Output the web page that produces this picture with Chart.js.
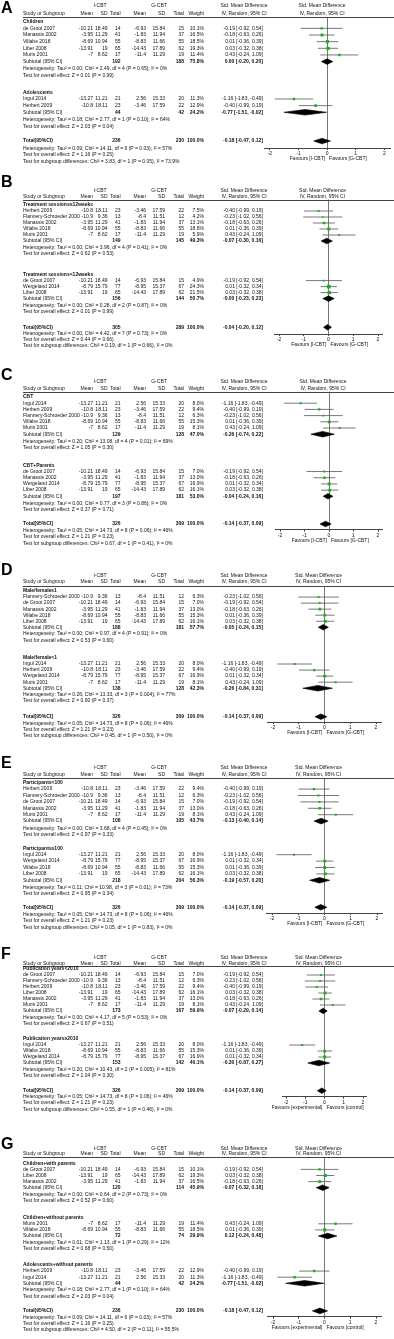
<!DOCTYPE html>
<html>
<head>
<meta charset="utf-8">
<title>Forest plots I-CBT vs G-CBT</title>
<script src="https://cdn.jsdelivr.net/npm/chart.js@4.4.1/dist/chart.umd.min.js"></script>
<style>
  body { margin: 0; background: #fff; }
  #page { position: relative; width: 394px; height: 1339px; overflow: hidden; }
  #page canvas { position: absolute; left: 0; }
</style>
</head>
<body>
<div id="page"></div>
<script>
// study level data (same in every panel)
const studies = ['de Groot 2007', 'Manassis 2002', 'Villabe 2018', 'Liber 2008', 'Muris 2001', 'Ingul 2014', 'Herbert 2009', 'Flannery-Schroeder 2000', 'Wergeland 2014'];
const iMean = [-10.21, -3.95, -8.69, -13.91, -7, -13.27, -10.8, -10.9, -8.79];
const iSD = [18.49, 11.29, 10.94, 19, 8.62, 11.21, 18.11, 9.36, 15.79];
const iTotal = [14, 41, 55, 65, 17, 21, 23, 13, 77];
const gMean = [-6.93, -1.83, -8.83, -14.43, -11.4, 2.56, -3.46, -8.4, -8.95];
const gSD = [15.84, 11.94, 11.66, 17.89, 11.29, 15.33, 17.59, 11.51, 15.37];
const gTotal = [15, 37, 55, 62, 19, 20, 22, 12, 67];
const smd = [-0.19, -0.18, 0.01, 0.03, 0.43, -1.16, -0.40, -0.23, 0.01];
const ciLow = [-0.92, -0.63, -0.36, -0.32, -0.24, -1.83, -0.99, -1.02, -0.32];
const ciHigh = [0.54, 0.26, 0.39, 0.38, 1.09, -0.49, 0.19, 0.56, 0.34];
const axisTicks = [-2, -1, 0, 1, 2];

// A: age
const A_groups = ['Children', 'Adolescents'];
const A_members = [[0, 1, 2, 3, 4], [5, 6]];
const A_weights = [[10.1, 16.5, 18.5, 19.3, 11.4], [11.3, 12.9]];
const A_sub = [[192, 188, 75.8, 0.00, -0.20, 0.20], [44, 42, 24.2, -0.77, -1.51, -0.02]];
const A_het = ['Tau² = 0.00; Chi² = 2.49, df = 4 (P = 0.65); I² = 0%', 'Tau² = 0.18; Chi² = 2.77, df = 1 (P = 0.10); I² = 64%'];
const A_z = ['Z = 0.01 (P = 0.99)', 'Z = 2.03 (P = 0.04)'];
const A_total = [236, 230, -0.18, -0.47, 0.12];
const A_totalText = ['Tau² = 0.09; Chi² = 14.11, df = 6 (P = 0.03); I² = 57%', 'Z = 1.16 (P = 0.25)', 'Chi² = 3.83, df = 1 (P = 0.05), I² = 73.9%'];

// B: treatment sessions
const B_groups = ['Treatment sessions≥12weeks', 'Treatment sessions<12weeks'];
const B_members = [[6, 7, 1, 2, 4], [0, 8, 3]];
const B_weights = [[7.5, 4.2, 13.1, 18.6, 5.9], [4.9, 24.3, 21.5]];
const B_sub = [[149, 145, 49.3, -0.07, -0.30, 0.16], [156, 144, 50.7, -0.00, -0.23, 0.23]];
const B_het = ['Tau² = 0.00; Chi² = 3.96, df = 4 (P = 0.41); I² = 0%', 'Tau² = 0.00; Chi² = 0.28, df = 2 (P = 0.87); I² = 0%'];
const B_z = ['Z = 0.62 (P = 0.53)', 'Z = 0.01 (P = 0.99)'];
const B_total = [305, 289, -0.04, -0.20, 0.12];
const B_totalText = ['Tau² = 0.00; Chi² = 4.42, df = 7 (P = 0.73); I² = 0%', 'Z = 0.44 (P = 0.66)', 'Chi² = 0.19, df = 1 (P = 0.66), I² = 0%'];

// C: parents involved
const C_groups = ['CBT', 'CBT+Parents'];
const C_members = [[5, 6, 7, 2, 4], [0, 1, 8, 3]];
const C_weights = [[8.0, 9.4, 6.3, 15.3, 8.1], [7.0, 13.0, 16.9, 16.1]];
const C_sub = [[129, 128, 47.0, -0.26, -0.74, 0.22], [197, 181, 53.0, -0.04, -0.24, 0.16]];
const C_het = ['Tau² = 0.20; Chi² = 13.08, df = 4 (P = 0.01); I² = 69%', 'Tau² = 0.00; Chi² = 0.77, df = 3 (P = 0.86); I² = 0%'];
const C_z = ['Z = 1.05 (P = 0.30)', 'Z = 0.37 (P = 0.71)'];
const C_total = [326, 309, -0.14, -0.37, 0.09];
const C_totalText = ['Tau² = 0.05; Chi² = 14.73, df = 8 (P = 0.06); I² = 46%', 'Z = 1.21 (P = 0.23)', 'Chi² = 0.67, df = 1 (P = 0.41), I² = 0%'];

// D: sex ratio
const D_groups = ['Male/female≥1', 'Male/female<1'];
const D_members = [[7, 0, 1, 2, 3], [5, 6, 8, 4]];
const D_weights = [[6.3, 7.0, 13.0, 15.3, 16.1], [8.0, 9.4, 16.9, 8.1]];
const D_sub = [[188, 181, 57.7, -0.05, -0.24, 0.15], [138, 128, 42.3, -0.26, -0.84, 0.31]];
const D_het = ['Tau² = 0.00; Chi² = 0.97, df = 4 (P = 0.91); I² = 0%', 'Tau² = 0.26; Chi² = 13.33, df = 3 (P = 0.004); I² = 77%'];
const D_z = ['Z = 0.53 (P = 0.60)', 'Z = 0.90 (P = 0.37)'];
const D_total = [326, 309, -0.14, -0.37, 0.09];
const D_totalText = ['Tau² = 0.05; Chi² = 14.73, df = 8 (P = 0.06); I² = 46%', 'Z = 1.21 (P = 0.23)', 'Chi² = 0.45, df = 1 (P = 0.50), I² = 0%'];

// E: sample size
const E_groups = ['Participants<100', 'Participants≥100'];
const E_members = [[6, 7, 0, 1, 4], [5, 8, 2, 3]];
const E_weights = [[9.4, 6.3, 7.0, 13.0, 8.1], [8.0, 16.9, 15.3, 16.1]];
const E_sub = [[108, 105, 43.7, -0.13, -0.40, 0.14], [218, 204, 56.3, -0.19, -0.57, 0.20]];
const E_het = ['Tau² = 0.00; Chi² = 3.68, df = 4 (P = 0.45); I² = 0%', 'Tau² = 0.11; Chi² = 10.98, df = 3 (P = 0.01); I² = 73%'];
const E_z = ['Z = 0.97 (P = 0.33)', 'Z = 0.95 (P = 0.34)'];
const E_total = [326, 309, -0.14, -0.37, 0.09];
const E_totalText = ['Tau² = 0.05; Chi² = 14.73, df = 8 (P = 0.06); I² = 46%', 'Z = 1.21 (P = 0.23)', 'Chi² = 0.05, df = 1 (P = 0.83), I² = 0%'];

// F: publication year
const F_groups = ['Publication years<2010', 'Publication years≥2010'];
const F_members = [[0, 7, 6, 3, 1, 4], [5, 2, 8]];
const F_weights = [[7.0, 6.3, 9.4, 16.1, 13.0, 8.1], [8.0, 15.3, 16.9]];
const F_sub = [[173, 167, 59.9, -0.07, -0.29, 0.14], [153, 142, 40.1, -0.30, -0.87, 0.27]];
const F_het = ['Tau² = 0.00; Chi² = 4.17, df = 5 (P = 0.53); I² = 0%', 'Tau² = 0.20; Chi² = 10.43, df = 2 (P = 0.005); I² = 81%'];
const F_z = ['Z = 0.67 (P = 0.51)', 'Z = 1.04 (P = 0.30)'];
const F_total = [326, 309, -0.14, -0.37, 0.09];
const F_totalText = ['Tau² = 0.05; Chi² = 14.73, df = 8 (P = 0.06); I² = 46%', 'Z = 1.21 (P = 0.23)', 'Chi² = 0.55, df = 1 (P = 0.46), I² = 0%'];

// G: age x parents
const G_groups = ['Children+with parents', 'Children+without parents', 'Adolescents+without parents'];
const G_members = [[0, 3, 1], [4, 2], [6, 5]];
const G_weights = [[10.1, 19.3, 16.5], [11.4, 18.5], [12.9, 11.3]];
const G_sub = [[120, 114, 45.9, -0.07, -0.32, 0.18], [72, 74, 29.9, 0.12, -0.24, 0.48], [44, 42, 24.2, -0.77, -1.51, -0.02]];
const G_het = ['Tau² = 0.00; Chi² = 0.64, df = 2 (P = 0.73); I² = 0%', 'Tau² = 0.01; Chi² = 1.13, df = 1 (P = 0.29); I² = 12%', 'Tau² = 0.18; Chi² = 2.77, df = 1 (P = 0.10); I² = 64%'];
const G_z = ['Z = 0.52 (P = 0.60)', 'Z = 0.68 (P = 0.50)', 'Z = 2.03 (P = 0.04)'];
const G_total = [236, 230, -0.18, -0.47, 0.12];
const G_totalText = ['Tau² = 0.09; Chi² = 14.11, df = 6 (P = 0.03); I² = 57%', 'Z = 1.16 (P = 0.25)', 'Chi² = 4.50, df = 2 (P = 0.11), I² = 55.5%'];

const favoursGroup = ['Favours [I-CBT]', 'Favours [G-CBT]'];
const favoursGeneric = ['Favours [experimental]', 'Favours [control]'];

const panels = [
  { letter: 'A', groups: A_groups, members: A_members, weights: A_weights, sub: A_sub, het: A_het, z: A_z, total: A_total, totalText: A_totalText, totalLabel: 'Total(95%CI)', favours: favoursGroup },
  { letter: 'B', groups: B_groups, members: B_members, weights: B_weights, sub: B_sub, het: B_het, z: B_z, total: B_total, totalText: B_totalText, totalLabel: 'Total(95%CI)', favours: favoursGroup },
  { letter: 'C', groups: C_groups, members: C_members, weights: C_weights, sub: C_sub, het: C_het, z: C_z, total: C_total, totalText: C_totalText, totalLabel: 'Total[95%CI]', favours: favoursGroup },
  { letter: 'D', groups: D_groups, members: D_members, weights: D_weights, sub: D_sub, het: D_het, z: D_z, total: D_total, totalText: D_totalText, totalLabel: 'Total[95%CI]', favours: favoursGroup },
  { letter: 'E', groups: E_groups, members: E_members, weights: E_weights, sub: E_sub, het: E_het, z: E_z, total: E_total, totalText: E_totalText, totalLabel: 'Total[95%CI]', favours: favoursGroup },
  { letter: 'F', groups: F_groups, members: F_members, weights: F_weights, sub: F_sub, het: F_het, z: F_z, total: F_total, totalText: F_totalText, totalLabel: 'Total[95%CI]', favours: favoursGeneric },
  { letter: 'G', groups: G_groups, members: G_members, weights: G_weights, sub: G_sub, het: G_het, z: G_z, total: G_total, totalText: G_totalText, totalLabel: 'Total(95%CI)', favours: favoursGeneric }
];

// page layout of each panel (page pixels), kept apart from the data
const layouts = [
  { top: 0,    height: 172, letter: 9,    h1: 6,      h2: 14,     rule: 17,     head: 21.7,   u: 6.65, gaps: [2.5],        gapTotal: 2.21, axis: 148,    xm2: 270, xp2: 386 },
  { top: 172,  height: 192, letter: 183,  h1: 191,    h2: 196.5,  rule: 199.5,  head: 205,    u: 6.0,  gaps: [3.48],       gapTotal: 2.66, axis: 334,    xm2: 279, xp2: 378 },
  { top: 364,  height: 196, letter: 376,  h1: 382,    h2: 388.5,  rule: 391.5,  head: 397,    u: 6.2,  gaps: [2.9],        gapTotal: 2.34, axis: 529.7,  xm2: 280, xp2: 378 },
  { top: 560,  height: 192, letter: 571,  h1: 576,    h2: 582,    rule: 586,    head: 591,    u: 6.05, gaps: [2.95],       gapTotal: 2.59, axis: 722,    xm2: 273, xp2: 376 },
  { top: 752,  height: 192, letter: 764,  h1: 767.5,  h2: 775,    rule: 778.3,  head: 782.7,  u: 6.4,  gaps: [2.13],       gapTotal: 2.1,  axis: 913,    xm2: 272, xp2: 377 },
  { top: 944,  height: 191, letter: 955,  h1: 957.3,  h2: 963.3,  rule: 966,    head: 969,    u: 6.0,  gaps: [2.55],       gapTotal: 2.49, axis: 1096.7, xm2: 286, xp2: 363 },
  { top: 1135, height: 204, letter: 1145, h1: 1148.3, h2: 1154,   rule: 1157.3, head: 1163.3, u: 6.1,  gaps: [2.8, 2.63],  gapTotal: 2.41, axis: 1316.7, xm2: 273, xp2: 376 }
];

const FONT = '"Liberation Sans", Arial, sans-serif';
const FS = 5.0;
const TEXT = '#111';
const GREEN = '#1fae1f';
// table columns: study left edge, right edges of number columns
const COL = { study: 23, iMean: 93, iSD: 107.5, iTotal: 120.5, gMean: 146, gSD: 165, gTotal: 184, weight: 204, ci: 263, iHead: 100, gHead: 159, smdHead: 244 };

function f2(v) {
  const s = Math.abs(v).toFixed(2);
  return (v < 0 || Object.is(v, -0)) ? '-' + s : s;
}
function ciText(est, lo, hi) {
  return f2(est) + ' [' + f2(lo) + ', ' + f2(hi) + ']';
}

// row positions in "row units", first subgroup heading = 0
function buildRows(p, L) {
  const rows = [];
  let r = 0, lastTest = 0;
  p.groups.forEach((name, k) => {
    if (k > 0) r = lastTest + L.gaps[k - 1];
    rows.push({ kind: 'heading', r: r, text: name });
    p.members[k].forEach((idx, j) => rows.push({ kind: 'study', r: r + 1 + j, idx: idx, w: p.weights[k][j] }));
    const sr = r + p.members[k].length + 1;
    rows.push({ kind: 'subtotal', r: sr, vals: p.sub[k] });
    rows.push({ kind: 'text', r: sr + 1.12, text: 'Heterogeneity: ' + p.het[k] });
    lastTest = sr + 2.12;
    rows.push({ kind: 'text', r: lastTest, text: 'Test for overall effect: ' + p.z[k] });
  });
  const tr = lastTest + L.gapTotal;
  rows.push({ kind: 'total', r: tr, vals: p.total });
  rows.push({ kind: 'text', r: tr + 1.07, text: 'Heterogeneity: ' + p.totalText[0] });
  rows.push({ kind: 'text', r: tr + 2.07, text: 'Test for overall effect: ' + p.totalText[1] });
  rows.push({ kind: 'text', r: tr + 3.14, text: 'Test for subgroup differences: ' + p.totalText[2] });
  return rows;
}

function tablePlugin(p, L, rows) {
  return {
    id: 'table' + p.letter,
    afterDraw(chart) {
      const ctx = chart.ctx;
      const ys = chart.scales.y, xs = chart.scales.x;
      const oy = L.top;
      const put = (text, x, y, align, bold) => {
        ctx.font = (bold ? 'bold ' : '') + FS + 'px ' + FONT;
        ctx.textAlign = align;
        ctx.fillText(String(text), x, y);
      };
      ctx.save();
      ctx.fillStyle = TEXT;
      ctx.textBaseline = 'middle';

      // panel letter
      ctx.font = 'bold 16px ' + FONT;
      ctx.textAlign = 'left';
      ctx.fillStyle = '#000';
      ctx.fillText(p.letter, 1, L.letter - oy);
      ctx.fillStyle = TEXT;

      // header lines
      const forestMid = (L.xm2 + L.xp2) / 2 - 6;
      put('I-CBT', COL.iHead, L.h1 - oy, 'center');
      put('G-CBT', COL.gHead, L.h1 - oy, 'center');
      put('Std. Mean Difference', COL.smdHead, L.h1 - oy, 'center');
      put('Std. Mean Difference', forestMid, L.h1 - oy, 'center');
      const h2 = L.h2 - oy;
      put('Study or Subgroup', COL.study, h2, 'left');
      put('Mean', COL.iMean, h2, 'right');
      put('SD', COL.iSD, h2, 'right');
      put('Total', COL.iTotal, h2, 'right');
      put('Mean', COL.gMean, h2, 'right');
      put('SD', COL.gSD, h2, 'right');
      put('Total', COL.gTotal, h2, 'right');
      put('Weight', COL.weight, h2, 'right');
      put('IV, Random, 95% CI', COL.smdHead, h2, 'center');
      put('IV, Random, 95% CI', forestMid, h2, 'center');

      // rule under header
      ctx.strokeStyle = '#444';
      ctx.lineWidth = 1;
      ctx.beginPath();
      ctx.moveTo(COL.study, Math.round(L.rule - oy) + 0.5);
      ctx.lineTo(394, Math.round(L.rule - oy) + 0.5);
      ctx.stroke();

      rows.forEach(row => {
        const y = ys.getPixelForValue(row.r);
        if (row.kind === 'heading') {
          put(row.text, COL.study, y, 'left', true);
        } else if (row.kind === 'study') {
          const i = row.idx;
          put(studies[i], COL.study, y, 'left');
          put(iMean[i], COL.iMean, y, 'right');
          put(iSD[i], COL.iSD, y, 'right');
          put(iTotal[i], COL.iTotal, y, 'right');
          put(gMean[i], COL.gMean, y, 'right');
          put(gSD[i], COL.gSD, y, 'right');
          put(gTotal[i], COL.gTotal, y, 'right');
          put(row.w.toFixed(1) + '%', COL.weight, y, 'right');
          put(ciText(smd[i], ciLow[i], ciHigh[i]), COL.ci, y, 'right');
        } else if (row.kind === 'subtotal') {
          const v = row.vals;
          put('Subtotal (95% CI)', COL.study, y, 'left');
          put(v[0], COL.iTotal, y, 'right', true);
          put(v[1], COL.gTotal, y, 'right', true);
          put(v[2].toFixed(1) + '%', COL.weight, y, 'right', true);
          put(ciText(v[3], v[4], v[5]), COL.ci, y, 'right', true);
        } else if (row.kind === 'total') {
          const v = row.vals;
          put(p.totalLabel, COL.study, y, 'left', true);
          put(v[0], COL.iTotal, y, 'right', true);
          put(v[1], COL.gTotal, y, 'right', true);
          put('100.0%', COL.weight, y, 'right', true);
          put(ciText(v[2], v[3], v[4]), COL.ci, y, 'right', true);
        } else {
          put(row.text, COL.study, y, 'left');
        }
      });

      // favours labels under the axis
      const x0 = xs.getPixelForValue(0);
      const fy = L.axis - oy + 11;
      put(p.favours[0], x0 - 2, fy, 'right');
      put(p.favours[1], x0 + 2, fy, 'left');
      ctx.restore();
    }
  };
}

const page = document.getElementById('page');

panels.forEach((p, n) => {
  const L = layouts[n];
  const rows = buildRows(p, L);
  const studyRows = rows.filter(r => r.kind === 'study');
  const unitPx = (L.xp2 - L.xm2) / 4;
  const xLeft = L.xm2 - 0.2 * unitPx;
  const xRight = L.xp2 + 0.2 * unitPx;

  const datasets = [];
  // study effect (square sized by weight)
  datasets.push({
    data: studyRows.map(s => ({ x: smd[s.idx], y: s.r })),
    showLine: false,
    pointStyle: 'rect',
    pointRadius: studyRows.map(s => 0.9 + s.w * 0.07),
    backgroundColor: GREEN,
    borderColor: GREEN,
    borderWidth: 0,
    order: 0
  });
  // confidence intervals
  studyRows.forEach(s => {
    datasets.push({
      data: [{ x: ciLow[s.idx], y: s.r }, { x: ciHigh[s.idx], y: s.r }],
      showLine: true,
      borderColor: '#555',
      borderWidth: 0.8,
      pointRadius: 0,
      order: 1
    });
  });
  // pooled diamonds
  const dh = 2.8 / L.u;
  rows.filter(r => r.kind === 'subtotal' || r.kind === 'total').forEach(d => {
    const v = d.kind === 'subtotal' ? d.vals.slice(3) : d.vals.slice(2);
    datasets.push({
      data: [{ x: v[1], y: d.r }, { x: v[0], y: d.r - dh }, { x: v[2], y: d.r }, { x: v[0], y: d.r + dh }, { x: v[1], y: d.r }],
      showLine: true,
      fill: 'shape',
      backgroundColor: '#000',
      borderColor: '#000',
      borderWidth: 0.6,
      pointRadius: 0,
      tension: 0,
      order: 0
    });
  });

  const cv = document.createElement('canvas');
  cv.width = 394;
  cv.height = L.height;
  cv.style.top = L.top + 'px';
  page.appendChild(cv);

  new Chart(cv.getContext('2d'), {
    type: 'line',
    data: { datasets: datasets },
    options: {
      responsive: false,
      animation: false,
      devicePixelRatio: 1,
      events: [],
      layout: { padding: { top: L.rule - L.top, left: xLeft, right: 394 - xRight, bottom: 0 } },
      plugins: { legend: { display: false }, tooltip: { enabled: false } },
      scales: {
        x: {
          type: 'linear',
          min: -2.2,
          max: 2.2,
          afterBuildTicks: s => { s.ticks = axisTicks.map(v => ({ value: v })); },
          afterFit: s => { s.height = L.top + L.height - L.axis; },
          grid: {
            color: c => (c.tick && c.tick.value === 0) ? '#777' : 'rgba(0,0,0,0)',
            tickColor: '#444',
            tickLength: 2,
            lineWidth: 1
          },
          border: { display: true, color: '#444', width: 1 },
          ticks: { font: { size: 5, family: FONT }, color: TEXT, padding: 0.5, maxRotation: 0, autoSkip: false }
        },
        y: {
          type: 'linear',
          reverse: true,
          display: false,
          min: (L.rule - L.head) / L.u,
          max: (L.axis - L.head) / L.u
        }
      }
    },
    plugins: [tablePlugin(p, L, rows)]
  });
});
</script>
</body>
</html>
